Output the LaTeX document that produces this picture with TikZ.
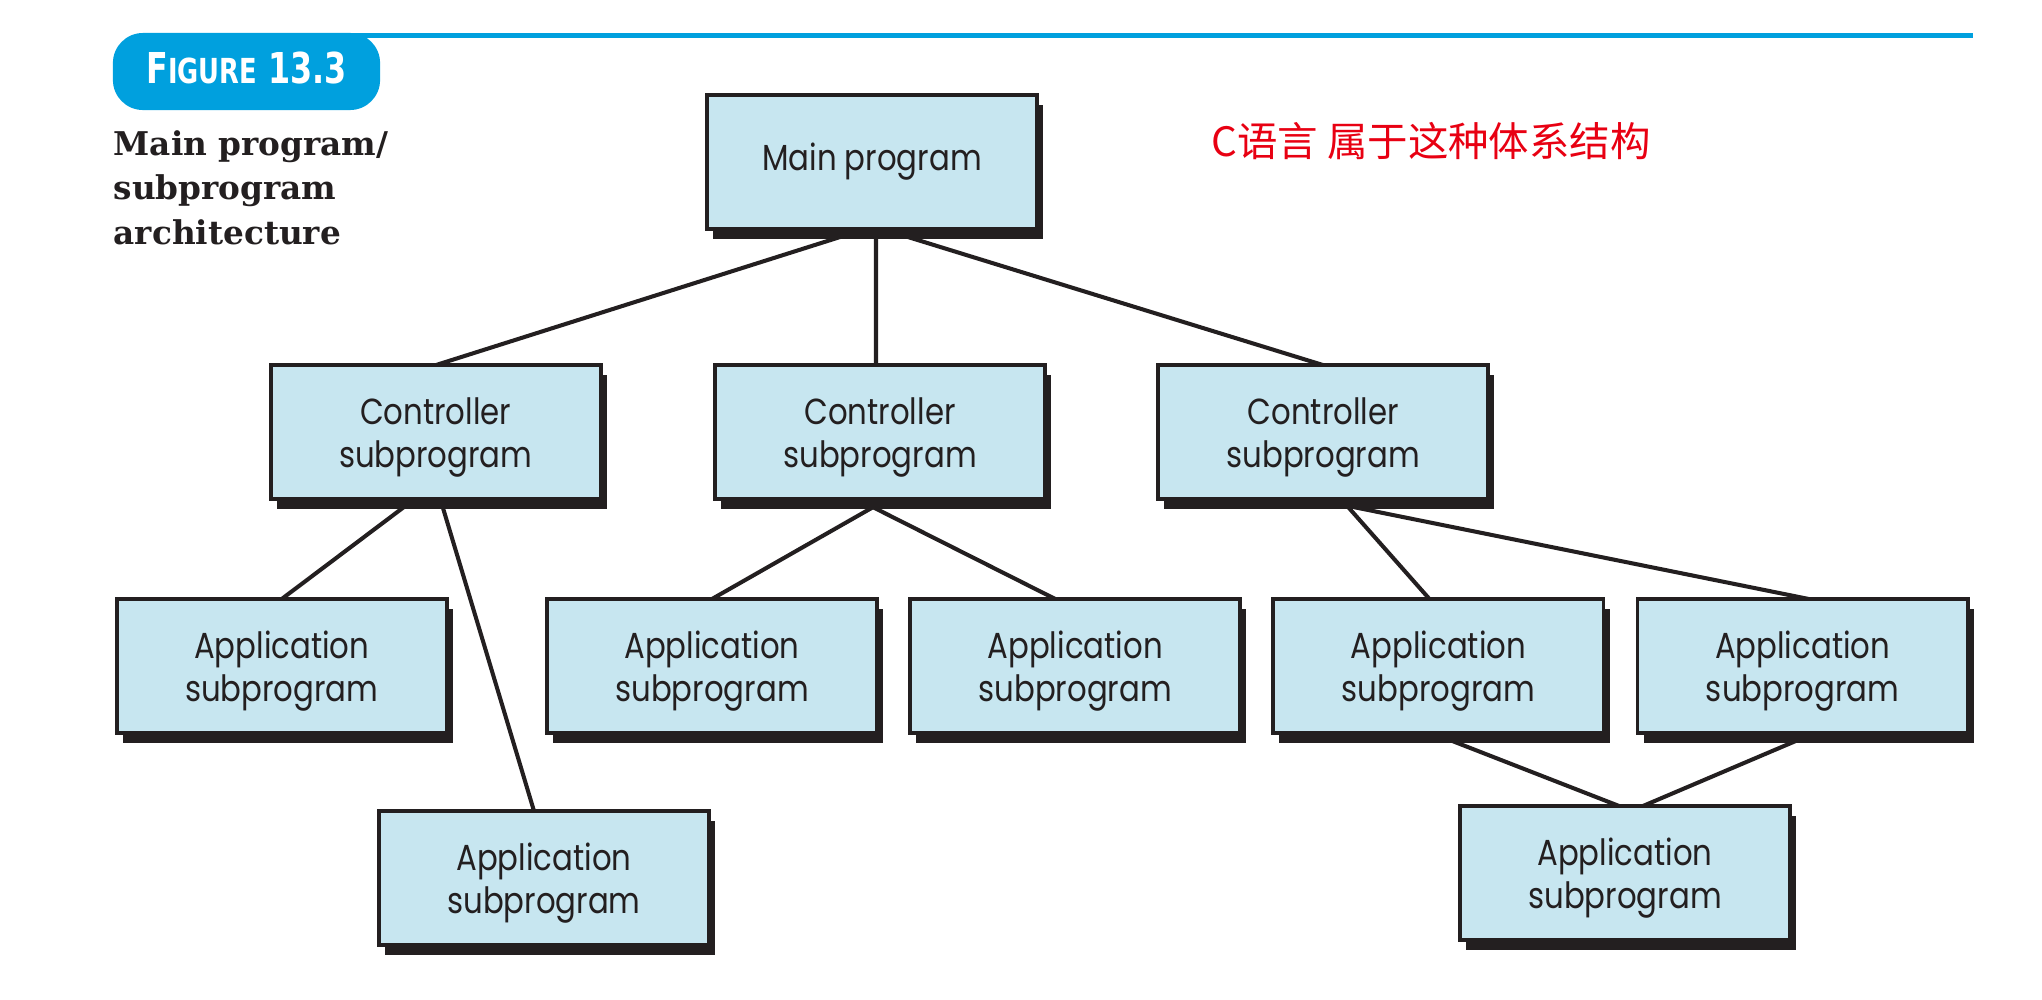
\documentclass[tikz,border=0pt]{standalone}
\usepackage{fontspec}
\setmainfont{Poppins}
\newfontfamily\boxfont{Poppins}[FakeStretch=0.85]
\newfontfamily\titlefont{DejaVu Serif}
\newfontfamily\tabfont{DejaVu Sans Condensed}
\newfontfamily\cjk{Noto Sans CJK SC}
\usepackage{tikz}
\usetikzlibrary{positioning,calc,shadows,backgrounds}
\definecolor{boxfill}{RGB}{199,230,240}
\definecolor{tabblue}{RGB}{0,160,222}
\definecolor{inkblack}{RGB}{35,31,32}
\definecolor{noteRed}{RGB}{232,0,18}

\begin{document}
\begin{tikzpicture}[
    x=0.01cm, y=-0.01cm,
    box/.style={draw=inkblack, line width=1.1pt, fill=boxfill, minimum width=3.3cm, minimum height=1.34cm,
        inner sep=0pt, outer sep=0pt, align=center, text=inkblack,
        font=\boxfont\fontsize{10.3}{12.2}\selectfont,
        drop shadow={shadow xshift=0.06cm, shadow yshift=-0.1cm, fill=inkblack, opacity=1}},
    subbox/.style={box, text depth=0pt},
    link/.style={line width=1.15pt, draw=inkblack},
    tab/.style={fill=tabblue, rounded corners=0.3cm, minimum width=2.67cm, minimum height=0.77cm,
        inner sep=0pt, text=white, text height=0.31cm, text depth=0.08cm}
]
    \useasboundingbox (0,0) rectangle (2042,1000);

    % Header
    \fill[tabblue] (300,33) rectangle (1973,38);
    \node[tab] (figtag) at (246.5,71.5) {\scalebox{0.83}[1]{\tabfont\bfseries\fontsize{12.1}{14}\selectfont F{\fontsize{9.8}{12}\selectfont IGURE} 13.3}};
    \node[anchor=north west, inner sep=0pt, align=left, text=inkblack,
        font=\titlefont\bfseries\fontsize{9.3}{12.6}\selectfont] (title) at (113,130) {Main program/\\subprogram\\architecture};
    \node[text=noteRed, font=\cjk\fontsize{11.5}{14}\selectfont] (note) at (1431,141) {C语言 属于这种体系结构};

    % Boxes
    \node[box] (main) at (872,162) {Main program};
    \node[subbox, below=1.36cm of main, xshift=0.08cm] (ctrl2) {Controller\\subprogram};
    \node[subbox, left=1.14cm of ctrl2] (ctrl1) {Controller\\subprogram};
    \node[subbox, right=1.13cm of ctrl2] (ctrl3) {Controller\\subprogram};

    \node[subbox] (appB) at (712,666) {Application\\subprogram};
    \node[subbox, left=1.0cm of appB] (appA) {Application\\subprogram};
    \node[subbox, right=0.33cm of appB] (appC) {Application\\subprogram};
    \node[subbox, right=0.33cm of appC] (appD) {Application\\subprogram};
    \node[subbox, right=0.34cm of appD] (appE) {Application\\subprogram};
    \node[subbox] (appF) at (544,878) {Application\\subprogram};
    \node[subbox] (appG) at (1625,873) {Application\\subprogram};

    % Connectors (behind the boxes, starting under the shadows)
    \begin{scope}[on background layer]
        \draw[link] ([xshift=-0.32cm, yshift=-0.08cm]main.south) -- (ctrl1.north);
        \draw[link] ([xshift=0.04cm, yshift=-0.08cm]main.south) -- ([xshift=-0.04cm]ctrl2.north);
        \draw[link] ([xshift=0.36cm, yshift=-0.08cm]main.south) -- (ctrl3.north);
        \draw[link] ([xshift=-0.32cm, yshift=-0.08cm]ctrl1.south) -- (appA.north);
        \draw[link] ([xshift=0.07cm, yshift=-0.08cm]ctrl1.south) -- ([xshift=-0.1cm]appF.north);
        \draw[link] ([xshift=-0.07cm, yshift=-0.08cm]ctrl2.south) -- (appB.north);
        \draw[link] ([xshift=-0.07cm, yshift=-0.08cm]ctrl2.south) -- ([xshift=-0.2cm]appC.north);
        \draw[link] ([xshift=0.25cm, yshift=-0.08cm]ctrl3.south) -- ([xshift=-0.09cm]appD.north);
        \draw[link] ([xshift=0.31cm, yshift=-0.08cm]ctrl3.south) -- ([xshift=0.06cm]appE.north);
        \draw[link] ([xshift=0.14cm, yshift=-0.08cm]appD.south) -- ([xshift=-0.06cm]appG.north);
        \draw[link] ([xshift=-0.07cm, yshift=-0.08cm]appE.south) -- ([xshift=0.18cm]appG.north);
    \end{scope}
\end{tikzpicture}
\end{document}
